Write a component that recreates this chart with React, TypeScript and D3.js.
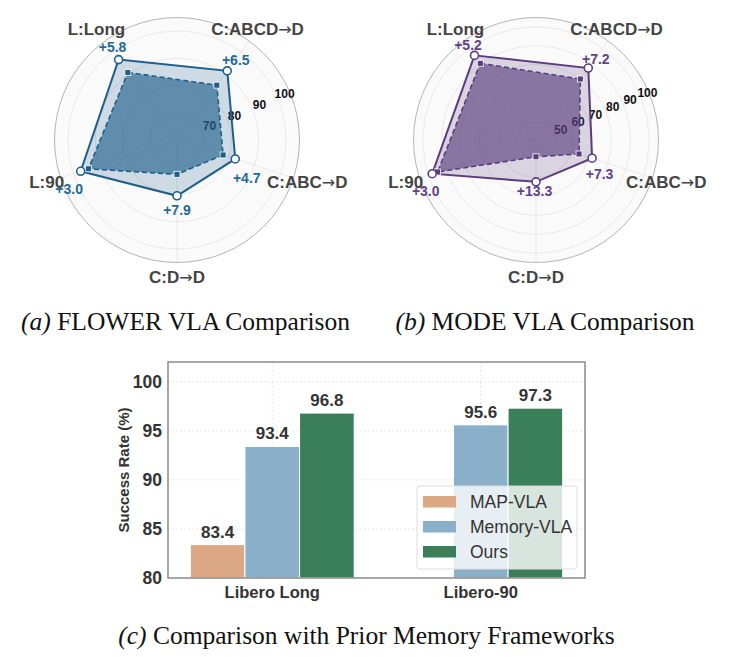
import React from "react";
import * as d3 from "d3";

// ---------- data ----------
const radarAxes = ["L:Long", "C:ABCD→D", "C:ABC→D", "C:D→D", "L:90"];

const flowerBaseline = [90.7, 84.9, 77.8, 72.6, 94.2];
const flowerOurs = [96.5, 91.4, 82.5, 80.5, 97.2];
const flowerGain = ["+5.8", "+6.5", "+4.7", "+7.9", "+3.0"];
const flowerTicks = [70, 80, 90, 100];

const modeBaseline = [90.3, 80.0, 64.0, 48.9, 94.9];
const modeOurs = [95.5, 87.2, 71.3, 62.2, 97.9];
const modeGain = ["+5.2", "+7.2", "+7.3", "+13.3", "+3.0"];
const modeTicks = [50, 60, 70, 80, 90, 100];

const barCategories = ["Libero Long", "Libero-90"];
const barSeries = ["MAP-VLA", "Memory-VLA", "Ours"];
const mapVla = [83.4, null];
const memoryVla = [93.4, 95.6];
const oursBar = [96.8, 97.3];
const barTicks = [80, 85, 90, 95, 100];

const FONT = "'Liberation Sans', Arial, Helvetica, sans-serif";
const SERIF = "'Liberation Serif', 'Times New Roman', serif";

function AxisLabel({ name }: { name: string }) {
  const parts = name.split("→");
  if (parts.length === 1) return <>{name}</>;
  return (
    <>
      {parts[0]}
      <tspan fontFamily="'DejaVu Sans', sans-serif" fontWeight="normal" fontSize={16}>
        →
      </tspan>
      {parts[1]}
    </>
  );
}

type RadarProps = {
  cx: number;
  cy: number;
  domain: [number, number];
  ticks: number[];
  baseline: number[];
  ours: number[];
  gains: string[];
  color: string;
  gainColor: string;
  gainOffsets: [number, number][];
};

function Radar(p: RadarProps) {
  const R = 122.5;
  const r = d3.scaleLinear().domain(p.domain).range([0, R]);
  const ang = (i: number) => ((-36 + 72 * i) * Math.PI) / 180;
  const pt = (i: number, v: number): [number, number] => [
    p.cx + r(v) * Math.sin(ang(i)),
    p.cy - r(v) * Math.cos(ang(i)),
  ];
  const line = d3.line<[number, number]>().curve(d3.curveLinearClosed);
  const basePts = p.baseline.map((v, i) => pt(i, v));
  const oursPts = p.ours.map((v, i) => pt(i, v));
  const tickAng = (67 * Math.PI) / 180;
  return (
    <g>
      <circle cx={p.cx} cy={p.cy} r={R} fill="#fafafa" stroke="none" />
      {p.ticks.map((t) => (
        <circle key={t} cx={p.cx} cy={p.cy} r={r(t)} fill="none" stroke="#e6e6e6" strokeWidth={0.9} />
      ))}
      {radarAxes.map((_, i) => {
        const [x, y] = pt(i, p.domain[1]);
        return <line key={i} x1={p.cx} y1={p.cy} x2={x} y2={y} stroke="#e6e6e6" strokeWidth={0.9} />;
      })}
      <circle cx={p.cx} cy={p.cy} r={R} fill="none" stroke="#b5b5b5" strokeWidth={1} />
      {p.ticks.map((t) => {
        const rr = r(t) + 8;
        return (
          <text
            key={t}
            x={p.cx + rr * Math.sin(tickAng)}
            y={p.cy - rr * Math.cos(tickAng)}
            fontSize={12}
            fontWeight="bold"
            fontFamily={FONT}
            fill="#111"
            textAnchor="middle"
            dominantBaseline="central"
          >
            {t}
          </text>
        );
      })}
      <path d={line(oursPts) || ""} fill={p.color} fillOpacity={0.2} stroke={p.color} strokeWidth={2} />
      <path
        d={line(basePts) || ""}
        fill={p.color}
        fillOpacity={0.63}
        stroke={p.color}
        strokeWidth={1.6}
        strokeDasharray="5,3"
      />
      {basePts.map(([x, y], i) => (
        <rect key={i} x={x - 3} y={y - 3} width={6} height={6} fill={p.color} stroke="#fff" strokeWidth={0.8} />
      ))}
      {oursPts.map(([x, y], i) => (
        <circle key={i} cx={x} cy={y} r={4} fill="#fff" stroke={p.color} strokeWidth={1.6} />
      ))}
      {radarAxes.map((name, i) => {
        const rr = R + 14.5;
        return (
          <text
            key={name}
            x={p.cx + rr * Math.sin(ang(i))}
            y={p.cy - rr * Math.cos(ang(i))}
            fontSize={17}
            fontWeight="bold"
            fontFamily={FONT}
            fill="#444"
            textAnchor="middle"
            dominantBaseline="central"
          >
            <AxisLabel name={name} />
          </text>
        );
      })}
      {p.gains.map((g, i) => {
        const [x, y] = oursPts[i];
        return (
          <text
            key={i}
            x={x + p.gainOffsets[i][0]}
            y={y + p.gainOffsets[i][1]}
            fontSize={14}
            fontWeight="bold"
            fontFamily={FONT}
            fill={p.gainColor}
            textAnchor="middle"
            dominantBaseline="central"
          >
            {g}
          </text>
        );
      })}
    </g>
  );
}

function Bars() {
  const left = 168,
    right = 585,
    top = 362,
    bottom = 578;
  const x = d3.scaleLinear().domain([-0.5, 1.5]).range([left, right]);
  const y = d3.scaleLinear().domain([80, 102]).range([bottom, top]);
  const w = 0.262;
  const colors = ["#dba785", "#8ab0c9", "#3b7f59"];
  const series = [mapVla, memoryVla, oursBar];
  return (
    <g>
      <rect x={left} y={top} width={right - left} height={bottom - top} fill="#fff" />
      {barTicks.slice(1).map((t) => (
        <line key={t} x1={left} x2={right} y1={y(t)} y2={y(t)} stroke="#e3e3e3" strokeWidth={0.9} strokeDasharray="2,2" />
      ))}
      {barCategories.map((_, gi) => (
        <line key={gi} x1={x(gi)} x2={x(gi)} y1={top} y2={bottom} stroke="#e3e3e3" strokeWidth={0.9} strokeDasharray="2,2" />
      ))}
      {series.map((vals, si) =>
        vals.map((v, gi) => {
          if (v == null) return null;
          const x0 = x(gi + (si - 1) * w - w / 2);
          const x1 = x(gi + (si - 1) * w + w / 2);
          return (
            <g key={`${si}-${gi}`}>
              <rect x={x0} y={y(v)} width={x1 - x0} height={bottom - y(v)} fill={colors[si]} stroke="#fff" strokeWidth={1} />
              <text
                x={(x0 + x1) / 2}
                y={y(v) - 7}
                fontSize={17}
                fontWeight="bold"
                fontFamily={FONT}
                fill="#333"
                textAnchor="middle"
              >
                {v.toFixed(1)}
              </text>
            </g>
          );
        })
      )}
      <rect x={left} y={top} width={right - left} height={bottom - top} fill="none" stroke="#8a8a8a" strokeWidth={1.5} />
      {barTicks.map((t) => (
        <text
          key={t}
          x={left - 6}
          y={y(t)}
          fontSize={17.5}
          fontWeight="bold"
          fontFamily={FONT}
          fill="#333"
          textAnchor="end"
          dominantBaseline="central"
        >
          {t}
        </text>
      ))}
      {barCategories.map((c, gi) => (
        <text
          key={c}
          x={x(gi)}
          y={598}
          fontSize={16.5}
          fontWeight="bold"
          fontFamily={FONT}
          fill="#333"
          textAnchor="middle"
        >
          {c}
        </text>
      ))}
      <text
        transform={`translate(123,${(top + bottom) / 2 + 0}) rotate(-90)`}
        fontSize={15}
        fontWeight="bold"
        fontFamily={FONT}
        fill="#333"
        textAnchor="middle"
        dominantBaseline="central"
      >
        Success Rate (%)
      </text>
      {/* legend */}
      <g>
        <rect x={417} y={486} width={160} height={83} rx={3} fill="#fff" fillOpacity={0.8} stroke="#dcdcdc" strokeWidth={1} />
        {barSeries.map((s, i) => (
          <g key={s}>
            <rect x={423} y={496 + i * 25} width={33} height={11.5} fill={colors[i]} />
            <text x={470} y={502 + i * 25} fontSize={17.5} fontFamily={FONT} fill="#333" dominantBaseline="central">
              {s}
            </text>
          </g>
        ))}
      </g>
    </g>
  );
}

export default function App() {
  return (
    <svg
      width={732}
      height={657}
      viewBox="0 0 732 657"
      style={{ position: "absolute", left: 0, top: 0, background: "#fff" }}
    >
      <rect width={732} height={657} fill="#fff" />
      <Radar
        cx={177}
        cy={140}
        domain={[60, 105]}
        ticks={flowerTicks}
        baseline={flowerBaseline}
        ours={flowerOurs}
        gains={flowerGain}
        color="#1f5f8b"
        gainColor="#236a98"
        gainOffsets={[
          [-6, -12.5],
          [8.5, -11],
          [11.5, 19.5],
          [0, 14],
          [-11.5, 17.5],
        ]}
      />
      <Radar
        cx={536}
        cy={140}
        domain={[40, 105]}
        ticks={modeTicks}
        baseline={modeBaseline}
        ours={modeOurs}
        gains={modeGain}
        color="#5b3d7d"
        gainColor="#62428a"
        gainOffsets={[
          [-6.5, -10],
          [7.5, -9],
          [7.5, 15.5],
          [-1.5, 9.5],
          [-6.5, 17.5],
        ]}
      />
      <text x={185.5} y={330} fontSize={25.5} fontFamily={SERIF} fill="#111" textAnchor="middle">
        <tspan fontStyle="italic">(a)</tspan> FLOWER VLA Comparison
      </text>
      <text x={545} y={330} fontSize={25.5} fontFamily={SERIF} fill="#111" textAnchor="middle">
        <tspan fontStyle="italic">(b)</tspan> MODE VLA Comparison
      </text>
      <Bars />
      <text x={366.5} y={644} fontSize={25.5} fontFamily={SERIF} fill="#111" textAnchor="middle">
        <tspan fontStyle="italic">(c)</tspan> Comparison with Prior Memory Frameworks
      </text>
    </svg>
  );
}
